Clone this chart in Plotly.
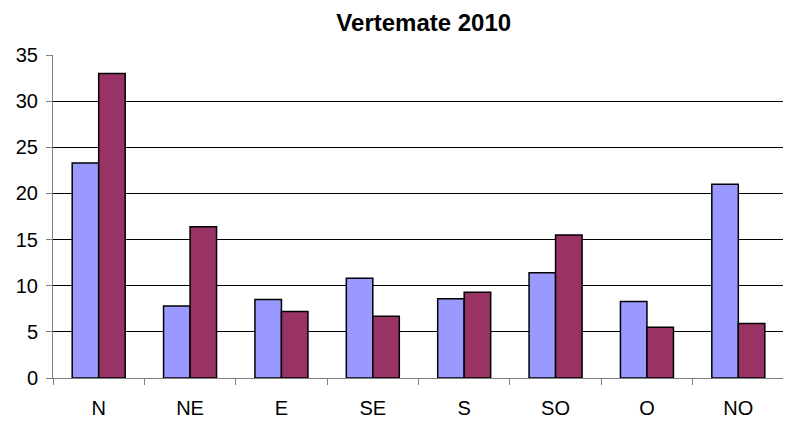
import plotly.graph_objects as go

# ---- datos ----
direcciones = ["N", "NE", "E", "SE", "S", "SO", "O", "NO"]
serie_a = [23.3, 7.8, 8.5, 10.8, 8.6, 11.4, 8.3, 21.0]
serie_b = [33.0, 16.4, 7.2, 6.7, 9.3, 15.5, 5.5, 5.9]

LILA = "#9999FF"; GRANATE = "#993366"; INK = "#000000"; GRIS = "#808080"
FONT = "Liberation Sans, Arial, sans-serif"

fig = go.Figure()
fig.add_bar(x=direcciones, y=serie_a, name="A", marker=dict(color=LILA, line=dict(color=INK, width=1.5)))
fig.add_bar(x=direcciones, y=serie_b, name="B", marker=dict(color=GRANATE, line=dict(color=INK, width=1.5)))

# la página html deja 8 px de margen en body: se compensa en tamaño y márgenes
fig.update_layout(
    width=783, height=415, showlegend=False, barmode="group", bargap=0.42, bargroupgap=0,
    paper_bgcolor="white", plot_bgcolor="white",
    font=dict(family=FONT, size=20, color=INK),
    margin=dict(l=45, r=7, t=47, b=45),
    title=dict(text="<b>Vertemate 2010</b>", x=0.531, xanchor="center", y=0.964, yanchor="middle",
               font=dict(size=24, color=INK)),
    xaxis=dict(showline=True, linecolor=GRIS, linewidth=1, ticks="outside", tickson="boundaries",
               ticklen=6, tickcolor=GRIS, showgrid=False, ticklabelstandoff=12, automargin=False,
               tickfont=dict(size=20)),
    yaxis=dict(range=[0, 35], dtick=5, showline=True, linecolor=GRIS, linewidth=1,
               ticks="outside", ticklen=6, tickcolor=GRIS, automargin=False, ticklabelstandoff=4,
               gridcolor=INK, gridwidth=1, zeroline=False, tickfont=dict(size=20)),
)
fig.write_html("out.html")
